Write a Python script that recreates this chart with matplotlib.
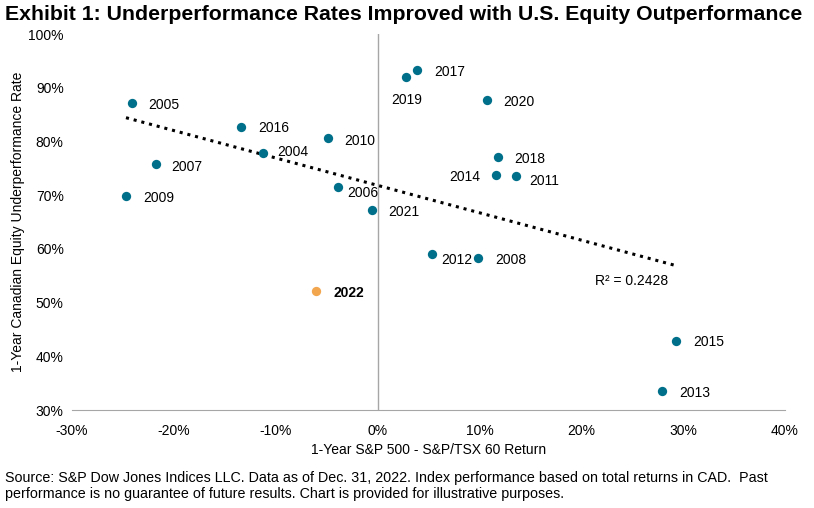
import numpy as np
import matplotlib
matplotlib.use("Agg")
import matplotlib.pyplot as plt
from matplotlib.ticker import FuncFormatter

plt.rcParams['font.family'] = ['Liberation Sans', 'DejaVu Sans']

# data (percent)
years = ['2005', '2016', '2010', '2004', '2007', '2009', '2006', '2021',
         '2019', '2017', '2020', '2018', '2014', '2011', '2012', '2008',
         '2015', '2013']
spread = [-24.1, -13.4, -4.9, -11.2, -21.8, -24.7, -3.9, -0.5,
          2.8, 3.9, 10.7, 11.8, 11.6, 13.6, 5.3, 9.9, 29.3, 27.9]
underperf = [87.2, 82.7, 80.7, 77.9, 75.8, 69.9, 71.5, 67.2,
             92.0, 93.3, 87.7, 77.1, 73.8, 73.6, 59.1, 58.3, 42.8, 33.5]
# label offsets in pixels (dx, dy up), alignment
label_pos = {
    '2005': (16, -2, 'left'), '2016': (17, -1, 'left'), '2010': (17, -3, 'left'),
    '2004': (14, 1, 'left'), '2007': (16, -3, 'left'), '2009': (17, -2, 'left'),
    '2006': (9, -6, 'left'), '2021': (16, -2, 'left'), '2019': (1, -23, 'center'),
    '2017': (17, -2, 'left'), '2020': (17, -2, 'left'), '2018': (16, -2, 'left'),
    '2014': (-15, -2, 'right'), '2011': (13, -5, 'left'), '2012': (10, -6, 'left'),
    '2008': (17, -2, 'left'), '2015': (17, -1, 'left'), '2013': (17, -2, 'left'),
}
hl_year = '2022'
hl_x, hl_y = -6.0, 52.2

teal = '#00708A'
orange = '#F2A64E'

fig = plt.figure(figsize=(8.14, 5.08), dpi=100)
ax = fig.add_axes([72 / 814, 1 - 410 / 508, 713 / 814, 376 / 508])

ax.scatter(spread, underperf, s=45, color=teal, zorder=3, linewidths=0)
ax.scatter([hl_x], [hl_y], s=45, color=orange, zorder=3, linewidths=0)

px = 0.72  # points per pixel
for yr, x, y in zip(years, spread, underperf):
    dx, dy, ha = label_pos[yr]
    ax.annotate(yr, (x, y), xytext=(dx * px, dy * px), textcoords='offset points',
                ha=ha, va='center', fontsize=10, color='#000000')
ax.annotate(hl_year, (hl_x, hl_y), xytext=(17 * px, -2 * px), textcoords='offset points',
            ha='left', va='center', fontsize=10, fontweight='bold', color='#000000')

# linear trend on all years incl. 2022
all_x = np.array(spread + [hl_x])
all_y = np.array(underperf + [hl_y])
slope, icpt = np.polyfit(all_x, all_y, 1)
tx = np.array([all_x.min(), all_x.max()])
ax.plot(tx, slope * tx + icpt, color='black', linestyle=(0, (1, 1.6)), linewidth=2.2, zorder=2)
ax.text(21.3, 55.3, 'R² = 0.2428', fontsize=10, va='top', ha='left')

ax.axvline(0, color='#A6A6A6', linewidth=1, zorder=1)

ax.set_xlim(-30, 40)
ax.set_ylim(30, 100)
ax.set_xticks(np.arange(-30, 41, 10))
ax.set_yticks(np.arange(30, 101, 10))
ax.xaxis.set_major_formatter(FuncFormatter(lambda v, p: f'{v:.0f}%'))
ax.yaxis.set_major_formatter(FuncFormatter(lambda v, p: f'{v:.0f}%'))
for s in ['top', 'right', 'left']:
    ax.spines[s].set_visible(False)
ax.spines['bottom'].set_color('#A6A6A6')
ax.tick_params(axis='both', length=0, labelsize=10, colors='#000000')
ax.tick_params(axis='x', pad=10)
ax.tick_params(axis='y', pad=6)

ax.set_xlabel('1-Year S&P 500 - S&P/TSX 60 Return', fontsize=10, labelpad=4)
ax.set_ylabel('1-Year Canadian Equity Underperformance Rate', fontsize=10, labelpad=2)

fig.text(5 / 814, 1 - 14 / 508, 'Exhibit 1: Underperformance Rates Improved with U.S. Equity Outperformance',
         fontsize=15.3, fontweight='bold', va='center', ha='left')
fig.text(5 / 814, 1 - 486 / 508,
         'Source: S&P Dow Jones Indices LLC. Data as of Dec. 31, 2022. Index performance based on total returns in CAD.  Past\n'
         'performance is no guarantee of future results. Chart is provided for illustrative purposes.',
         fontsize=10.3, va='center', ha='left', linespacing=1.15)

fig.savefig('out.png', dpi=100)
